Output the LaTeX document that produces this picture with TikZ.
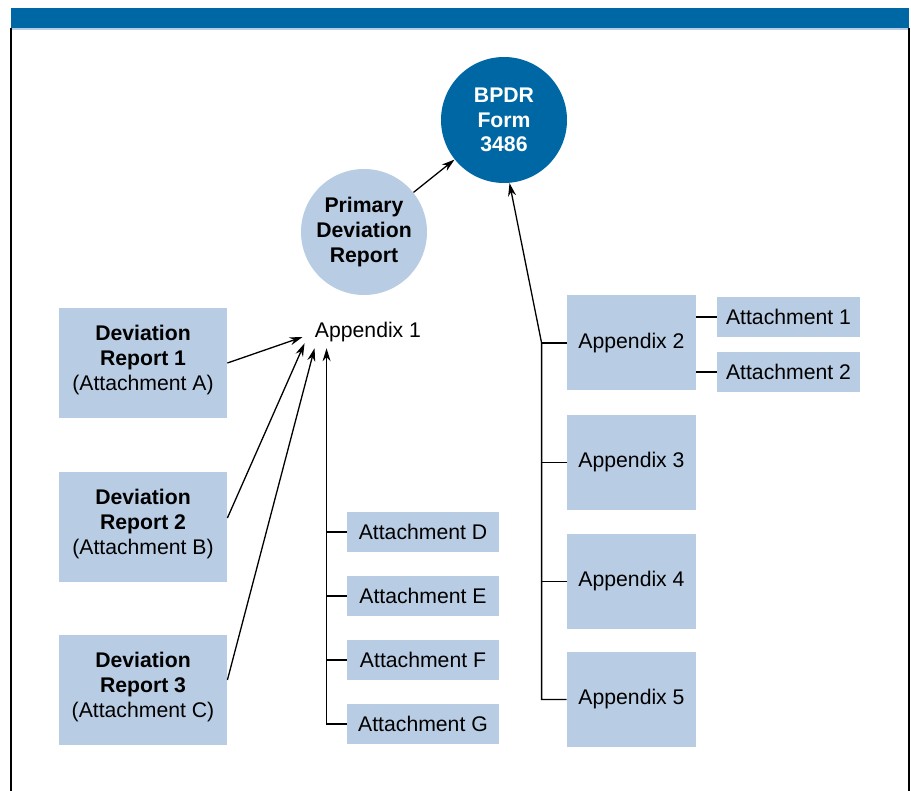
\documentclass[tikz,border=0pt]{standalone}
\usepackage{fontspec}
\setmainfont{Liberation Sans}
\usepackage{tikz}
\usetikzlibrary{arrows.meta}
\definecolor{barblue}{RGB}{0, 103, 165}
\definecolor{boxblue}{RGB}{184, 204, 228}

\begin{document}
\begin{tikzpicture}[x=0.5pt, y=-0.5pt,
    font=\fontsize{10.6}{12.5}\selectfont,
    box/.style={fill=boxblue, inner sep=0pt, align=center},
    devbox/.style={box, minimum width=84pt, minimum height=55pt},
    attbox/.style={box, minimum width=76pt, minimum height=20pt},
    appbox/.style={box, minimum width=64.5pt, minimum height=47.5pt},
    sidebox/.style={box, minimum width=71.5pt, minimum height=20pt},
    bubble/.style={circle, minimum size=63pt, inner sep=0pt, align=center,
        font=\fontsize{10.6}{12.3}\selectfont\bfseries},
    link/.style={line width=0.65pt},
    arr/.style={link, -{Stealth[length=6.5pt, width=4pt]}}]

    \useasboundingbox (0,0) rectangle (911,791);
    \fill[barblue] (11,8) rectangle (909,28);
    \draw[boxblue, line width=0.8pt] (11,29) -- (909,29);
    \draw[line width=0.6pt] (11,28) -- (11,791) (909,28) -- (909,791);

    \node[bubble, fill=barblue, text=white] (bpdr) at (504,120) {BPDR\\Form\\3486};
    \node[bubble, fill=boxblue] (prim) at (364,232) {Primary\\Deviation\\Report};
    \node[inner sep=3pt] (app1) at (368,332) {Appendix 1};

    \node[devbox] (dr1) at (143,363) {\textbf{Deviation}\\\textbf{Report 1}\\(Attachment A)\\[-7pt]};
    \node[devbox] (dr2) at (143,527) {\textbf{Deviation}\\\textbf{Report 2}\\(Attachment B)\\[-7pt]};
    \node[devbox] (dr3) at (143,690) {\textbf{Deviation}\\\textbf{Report 3}\\(Attachment C)\\[-7pt]};

    \node[attbox] (attD) at (423,532) {Attachment D};
    \node[attbox] (attE) at (423,596) {Attachment E};
    \node[attbox] (attF) at (423,660) {Attachment F};
    \node[attbox] (attG) at (423,724) {Attachment G};

    \node[appbox] (appx2) at (631.5,343) {Appendix 2};
    \node[appbox] (appx3) at (631.5,462.5) {Appendix 3};
    \node[appbox] (appx4) at (631.5,581.5) {Appendix 4};
    \node[appbox] (appx5) at (631.5,699.5) {Appendix 5};

    \node[sidebox] (att1) at (788.5,317) {Attachment 1};
    \node[sidebox] (att2) at (788.5,372) {Attachment 2};

    \draw[arr] (prim) -- (bpdr);

    \draw[arr] (dr1.east) -- ([shift={(-6,5)}]app1.west);
    \draw[arr] ([yshift=4.5pt]dr2.east) -- ([shift={(-4,-5)}]app1.south west);
    \draw[arr] ([yshift=5pt]dr3.east) -- ([shift={(6,0)}]app1.south west);
    \draw[arr] (attG.west) -| ([xshift=9pt]app1.south west);
    \foreach \a in {attD, attE, attF}
        \draw[link] (\a.west) -- ++(-19.5,0);

    \draw[arr] (appx5.west) -- ++(-25,0) coordinate (rtrunk) -- (rtrunk |- appx2.west) -- (bpdr.275);
    \foreach \a in {appx2, appx3, appx4}
        \draw[link] (\a.west) -- ++(-25,0);
    \draw[link] (att1.west) -- (att1.west -| appx2.east);
    \draw[link] (att2.west) -- (att2.west -| appx2.east);
\end{tikzpicture}
\end{document}
